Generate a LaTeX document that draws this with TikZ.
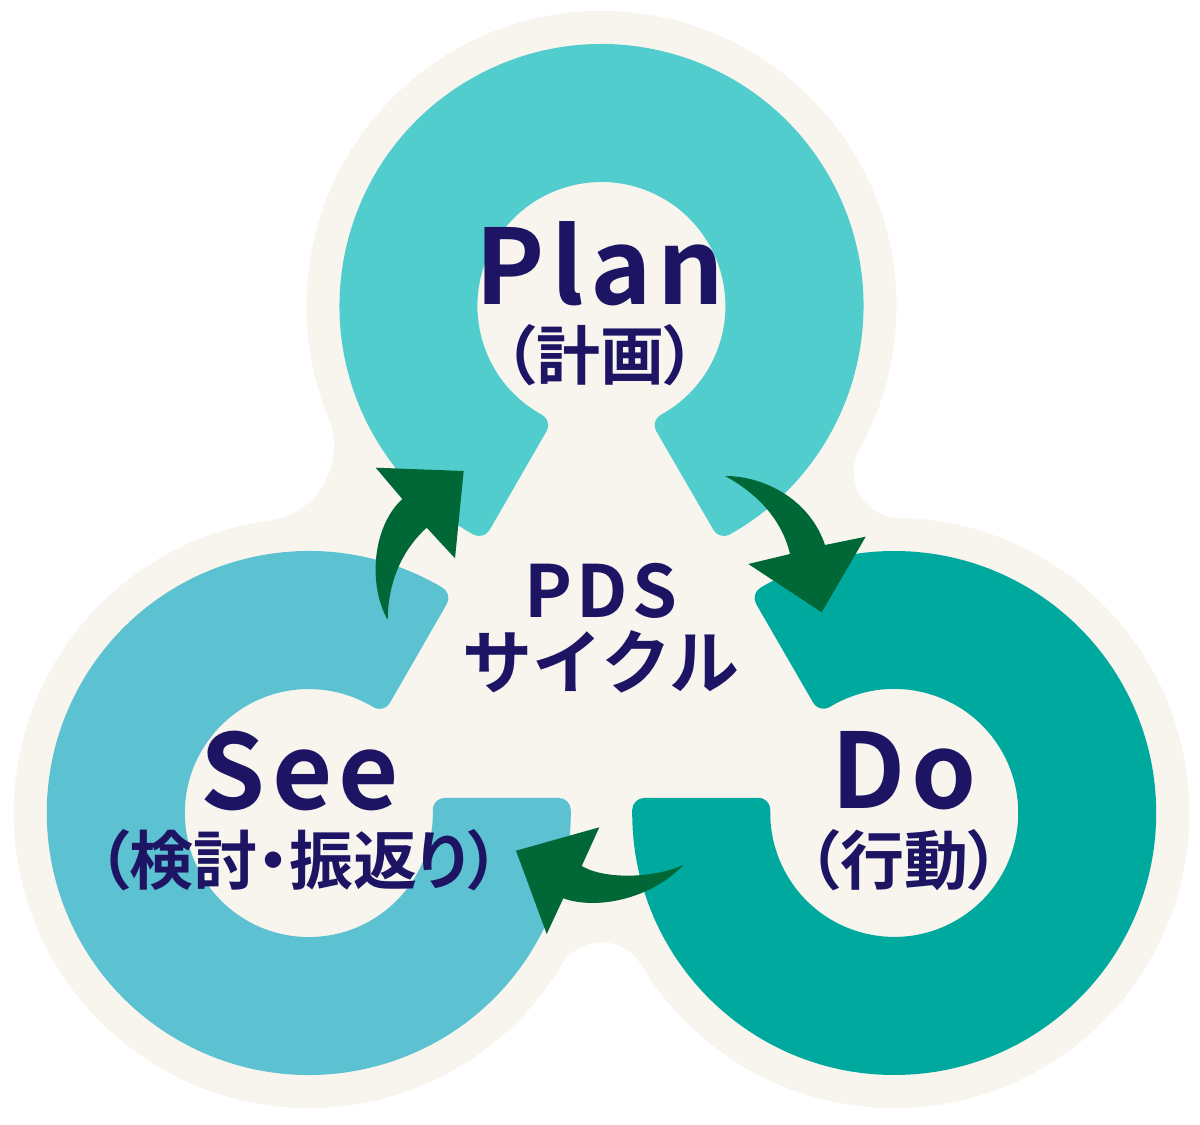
\documentclass[tikz,border=0pt]{standalone}
\usepackage{fontspec}
\newfontfamily\jpb{Noto Sans CJK JP Bold}
\newfontfamily\jpbp{Noto Sans CJK JP Bold}[RawFeature=+palt]
\newfontfamily\jpbls{Noto Sans CJK JP Bold}[LetterSpace=6]
\definecolor{cream}{HTML}{F8F4EE}
\definecolor{planc}{HTML}{52CDCD}
\definecolor{seec}{HTML}{5CC1D0}
\definecolor{doc}{HTML}{00A99E}
\definecolor{navy}{HTML}{1D1564}
\definecolor{arrowg}{HTML}{006837}
\newcommand\ringshape{(-60.7:262pt) arc[start angle=-60.7,end angle=240.7,radius=262pt]
  arc[start angle=240.7,end angle=330,radius=12pt] -- (-55.0,-125.3)
  arc[start angle=330,end angle=421.3,radius=12pt]
  arc[start angle=241.3,end angle=-61.3,radius=124pt]
  arc[start angle=118.7,end angle=210,radius=12pt] -- (112.0,-224.0)
  arc[start angle=210,end angle=299.3,radius=12pt] -- cycle}
\tikzset{
  bigword/.style={font={\jpbls\fontsize{104}{110}\selectfont}, text=navy, anchor=base, inner sep=0pt},
  subword/.style={font={\jpbp\fontsize{64}{68}\selectfont}, text=navy, anchor=base, inner sep=0pt},
  arrowshape/.style={fill=arrowg}
}
\begin{document}
\begin{tikzpicture}[x=1pt,y=1pt]
\useasboundingbox (0,0) rectangle (1200,1125);
\fill[white] (0,0) rectangle (1200,1125);
% centres
\coordinate (P) at (601.5,819);
\coordinate (S) at (308.8,312);
\coordinate (D) at (894.2,312);
\coordinate (LF) at (259,678.8);
\coordinate (RF) at (899.6,653.2);
\coordinate (BF) at (601.5,136.7);
% cream blob
\fill[cream] (P) circle[radius=295pt] (S) circle[radius=295pt] (D) circle[radius=295pt];
\fill[cream] (P) -- (RF) -- (D) -- (BF) -- (S) -- (LF) -- cycle;
\fill[white] (LF) circle[radius=75pt] (RF) circle[radius=46pt] (BF) circle[radius=46pt];
% rings
\begin{scope}[shift={(P)}]
  \fill[planc] \ringshape;
\end{scope}
\begin{scope}[shift={(S)}, rotate=120]
  \fill[seec] \ringshape;
\end{scope}
\begin{scope}[shift={(D)}, rotate=-120]
  \fill[doc] \ringshape;
\end{scope}
% arrows and text in image coordinates
\begin{scope}[shift={(0,1125)}, yscale=-1]
  % See -> Plan
  \fill[arrowshape] (387.7,620) .. controls (368,585) and (372,527) .. (402.3,499)
    -- (375.7,467.7) -- (463.7,471) -- (455,558.3) -- (426.7,527.7)
    .. controls (400,552) and (388,585) .. (387.7,620) -- cycle;
  % Plan -> Do
  \fill[arrowshape] (725,476) .. controls (765,476) and (810,500) .. (825,545)
    -- (865.7,536.7) -- (821.7,612.3) -- (748.3,564) -- (790,554)
    .. controls (782,520) and (758,494) .. (725,476) -- cycle;
  % Do -> See
  \fill[arrowshape] (683.3,865) .. controls (655,878) and (605,880) .. (581.7,866)
    -- (599.3,827.3) -- (516,850.7) -- (546.7,934) -- (563.3,898.3)
    .. controls (595,910) and (650,900) .. (683.3,865) -- cycle;
  % texts
  \node[bigword] (plan) at (600,305) {Plan};
  \node[subword] (plansub) at (600,380) {（計画）};
  \node[bigword] (see) at (300,810) {See};
  \node[subword] (seesub) at (299,885) {（検討・振返り）};
  \node[bigword] (do) at (904,809) {Do};
  \node[subword] (dosub) at (904,885) {（行動）};
  \node[font={\jpbls\fontsize{72}{76}\selectfont}, text=navy, anchor=base, inner sep=0pt] (pds) at (601,618) {PDS};
  \node[font={\jpb\fontsize{70}{76}\selectfont}, text=navy, anchor=base, inner sep=0pt] (cycle) at (601,689) {サイクル};
\end{scope}
\end{tikzpicture}
\end{document}
